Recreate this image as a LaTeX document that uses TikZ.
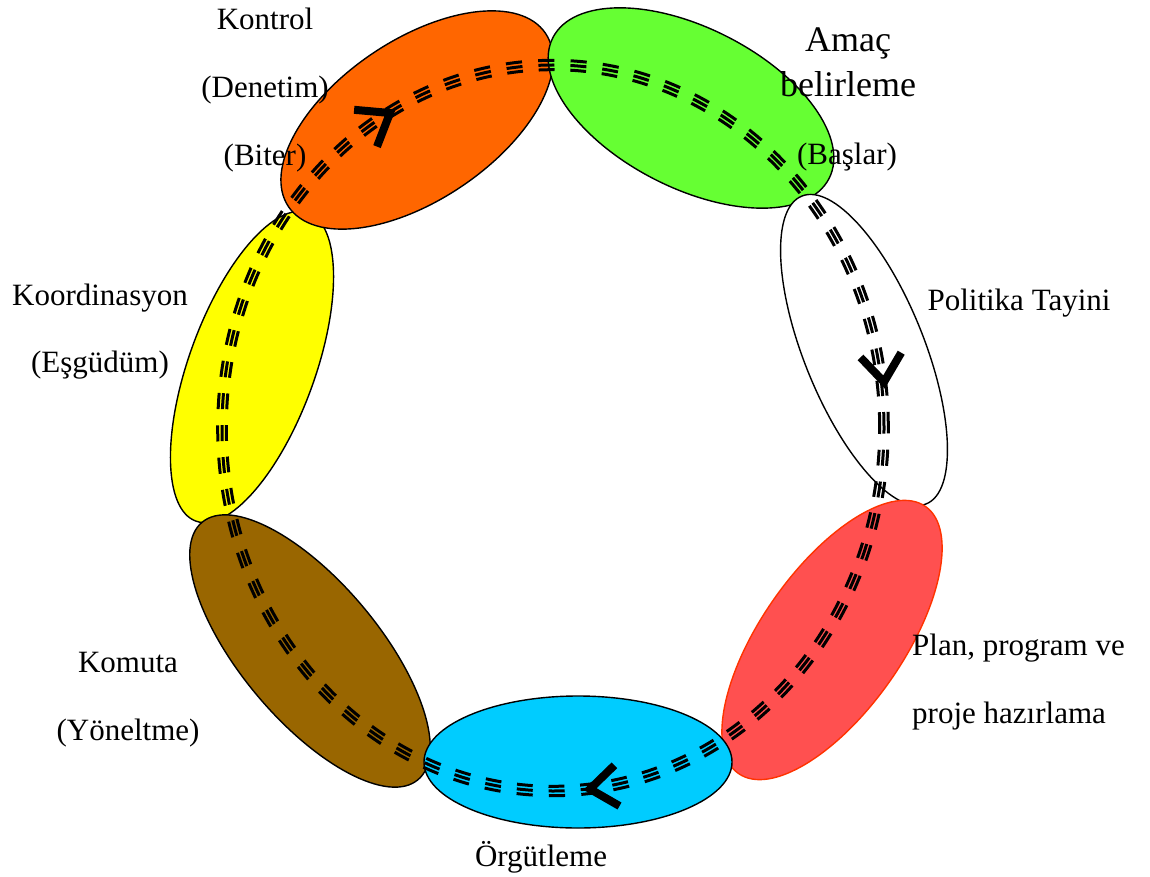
\documentclass[tikz,border=0pt]{standalone}
\usepackage{fontspec}
\setmainfont{Liberation Serif}
\usetikzlibrary{shapes.geometric,calc}
\definecolor{corange}{HTML}{FF6600}
\definecolor{cgreen}{HTML}{66FF33}
\definecolor{cred}{HTML}{FF5050}
\definecolor{credline}{HTML}{FF3300}
\definecolor{cblue}{HTML}{00CCFF}
\definecolor{cbrown}{HTML}{996600}
\definecolor{cyellow}{HTML}{FFFF00}
\tikzset{
  ell/.style={ellipse, draw=black, line width=1.4pt, inner sep=0pt},
  lbl/.style={font=\fontsize{31}{37}\selectfont, anchor=base, inner sep=0pt},
  biglbl/.style={font=\fontsize{36}{42}\selectfont, anchor=base, inner sep=0pt},
  tri/.style={line width=3pt},
  arrowmark/.style={line width=8pt, line join=miter}
}
\begin{document}
\begin{tikzpicture}[x=1pt,y=-1pt]
\useasboundingbox (0,0) rectangle (1150,877);
% ellipses
\node[ell, fill=cyellow, minimum width=328pt, minimum height=126pt, rotate=70] (koordell) at (252,367) {};
\node[ell, fill=corange, minimum width=310pt, minimum height=160pt, rotate=34] (kontrolell) at (417,120) {};
\node[ell, fill=cgreen, minimum width=310pt, minimum height=160pt, rotate=-27] (amacell) at (691,108) {};
\node[ell, fill=white, minimum width=332pt, minimum height=120pt, rotate=112] (politikaell) at (864,350) {};
\node[ell, fill=cred, draw=credline, minimum width=326pt, minimum height=142pt, rotate=55] (planell) at (832,640) {};
\node[ell, fill=cbrown, minimum width=336pt, minimum height=138pt, rotate=130] (komutaell) at (310,651) {};
\node[ell, fill=cblue, minimum width=308pt, minimum height=132pt] (orgutell) at (578,762) {};
% triple dashed cycle
\coordinate (cyc) at (553,428);
\draw[tri, dash pattern=on 15.79pt off 15.79pt] (cyc) ellipse [x radius=326.7pt, y radius=358.3pt];
\draw[tri, dash pattern=on 16pt off 16pt] (cyc) ellipse [x radius=331pt, y radius=363pt];
\draw[tri, dash pattern=on 16.21pt off 16.21pt] (cyc) ellipse [x radius=335.3pt, y radius=367.7pt];
% arrow marks
\coordinate (a1) at (390,113);
\coordinate (a2) at (884,382);
\coordinate (a3) at (590,789);
\draw[arrowmark] ($(a1)+(-13,33.6)$) -- (a1) -- ($(a1)+(-35.9,-3.2)$);
\draw[arrowmark] ($(a2)+(-23.5,-24.6)$) -- (a2) -- ($(a2)+(17.2,-29.3)$);
\draw[arrowmark] ($(a3)+(29.5,17)$) -- (a3) -- ($(a3)+(24.4,-23.7)$);
% labels
\node[lbl] (kontrol) at (265,30) {Kontrol};
\node[lbl] (denetim) at (265,98) {(Denetim)};
\node[lbl] (biter) at (265,166) {(Biter)};
\node[biglbl] (amac) at (848,52) {Amaç};
\node[biglbl] (belirleme) at (848,97) {belirleme};
\node[lbl] (baslar) at (847,165) {(Başlar)};
\node[lbl] (politika) at (1019,310) {Politika Tayini};
\node[lbl, anchor=base west] (plan) at (912,655) {Plan, program ve};
\node[lbl, anchor=base west] (proje) at (912,723) {proje hazırlama};
\node[lbl] (orgut) at (541,866) {Örgütleme};
\node[lbl] (komuta) at (128,672) {Komuta};
\node[lbl] (yonelt) at (128,740) {(Yöneltme)};
\node[lbl] (koord) at (100,305) {Koordinasyon};
\node[lbl] (esgudum) at (100,372) {(Eşgüdüm)};
\end{tikzpicture}
\end{document}
